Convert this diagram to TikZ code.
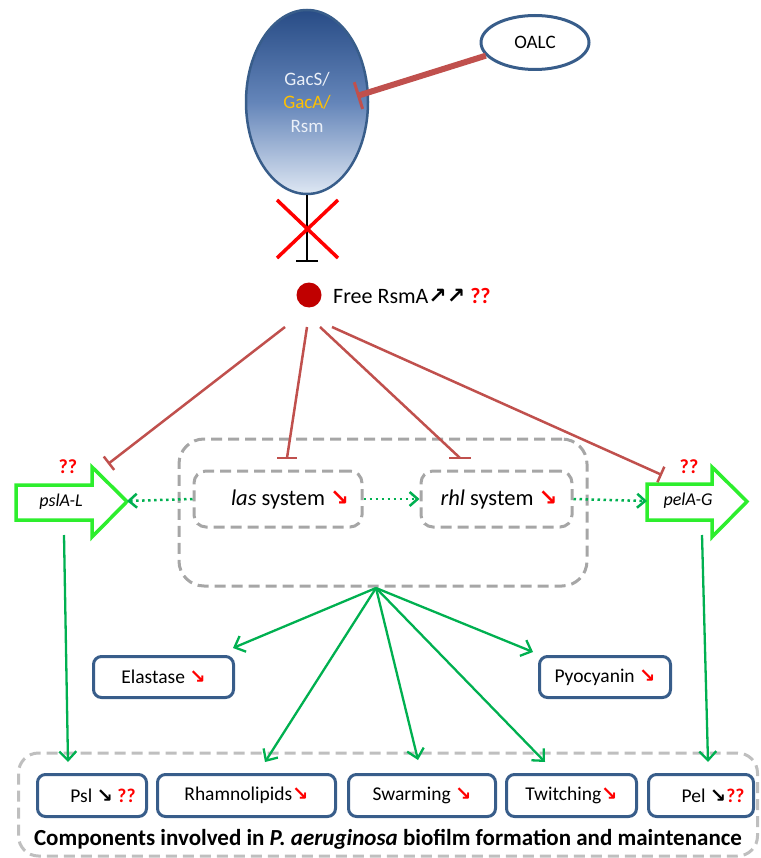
\documentclass[tikz,border=0pt]{standalone}
\usepackage{fontspec}
\setmainfont{Carlito}
\newfontfamily\arrfont{DejaVu Sans}
\usetikzlibrary{arrows.meta,shapes.geometric}
\definecolor{inhred}{RGB}{192,80,77}
\definecolor{bblue}{RGB}{56,93,138}
\definecolor{ggreen}{RGB}{0,176,80}
\definecolor{bgreen}{RGB}{45,238,45}
\definecolor{dgray}{RGB}{166,166,166}
\definecolor{lgray}{RGB}{191,191,191}
\definecolor{dotred}{RGB}{192,0,0}
\definecolor{goldc}{RGB}{255,192,0}
\definecolor{gtop}{RGB}{40,76,134}
\definecolor{gmid}{RGB}{100,133,185}
\definecolor{gbot}{RGB}{222,231,243}
\definecolor{gtext}{RGB}{235,240,248}
\newcommand\dnr{{\arrfont\bfseries\textcolor{red}{↘}}}
\newcommand\dnk{{\arrfont\bfseries ↘}}
\newcommand\upk{{\arrfont\bfseries ↗}}
\newcommand\qq{\textcolor{red}{\textbf{??}}}
\begin{document}
\begin{tikzpicture}[x=1pt,y=-1pt,
  inh/.style={draw=inhred,line width=2.5pt},
  bluebox/.style={draw=bblue,line width=3pt,rounded corners=8pt,fill=white,inner sep=0pt,font=\fontsize{19.5}{23}\selectfont},
  dashbox/.style={draw=dgray,line width=3pt,dash pattern=on 11pt off 6pt,rounded corners=#1,inner sep=0pt},
  garr/.style={draw=ggreen,line width=2.3pt,-{Straight Barb[length=9pt,width=17pt]}},
  dotarr/.style={draw=ggreen,line width=2.5pt,dash pattern=on 2.5pt off 3.5pt,-{Straight Barb[length=8pt,width=14pt]}},
  blockarr/.style={draw=bgreen,line width=3.5pt,fill=white,line join=miter},
  txt/.style={inner sep=0pt,font=\fontsize{22.5}{26}\selectfont}
]
\useasboundingbox (0,0) rectangle (760,858);

% ---- top: GacS/GacA/Rsm and OALC
\node[ellipse,minimum width=122pt,minimum height=184pt,inner sep=0pt,draw=bblue,line width=2.5pt,
      top color=gtop,bottom color=gbot,middle color=gmid,align=center,font=\fontsize{19}{23.5}\selectfont]
      (gac) at (307,102) {\textcolor{gtext}{GacS/}\\\textcolor{goldc}{GacA/}\\\textcolor{gtext}{Rsm}};
\node[ellipse,minimum width=108pt,minimum height=54pt,inner sep=0pt,draw=bblue,line width=3pt,fill=white,
      font=\fontsize{19}{23}\selectfont] (oalc) at (535,42.5) {OALC};
\coordinate (oalcbar) at (357,96);
\draw[draw=inhred,line width=6pt,-{Bar[width=28pt,line width=3pt]}] (oalc.195) -- (oalcbar);

% ---- blocked inhibition
\coordinate (gacbar) at (307,262);
\draw[black,line width=2pt,-{Bar[width=22pt,line width=2pt]}] (gac.south) -- (gacbar);
\draw[red,line width=3.5pt] (277,200) -- (338,258) (338,200) -- (277,258);

% ---- free RsmA
\node[circle,fill=dotred,minimum size=25pt,inner sep=0pt] (rsma) at (309,295) {};
\node[inner sep=0pt,anchor=west,font=\fontsize{22}{26}\selectfont] (rsmatxt) at (333,296) {Free RsmA\upk\upk\ \qq};

% ---- quorum sensing boxes
\node[dashbox=25pt,minimum width=408pt,minimum height=147pt] (qs) at (383,512.5) {};
\node[dashbox=12pt,minimum width=168pt,minimum height=56pt] (las) at (278,499) {};
\node[dashbox=12pt,minimum width=151pt,minimum height=56pt] (rhl) at (496.5,499) {};
\node[txt] (lastxt) at (290,499) {\textit{las} system\ \dnr};
\node[txt] (rhltxt) at (499,499) {\textit{rhl} system\ \dnr};

% ---- block arrows pslA-L / pelA-G
\draw[blockarr] (16,485) -- (92,485) -- (92,467) -- (127,501.5) -- (92,537) -- (92,520) -- (16,520) -- cycle;
\draw[blockarr] (647,484) -- (712,484) -- (712,467) -- (747,501.5) -- (712,537) -- (712,520) -- (647,520) -- cycle;
\coordinate (psltip) at (127,501);
\coordinate (pelbase) at (647,501);
\node[inner sep=0pt,font=\fontsize{18}{21}\selectfont\itshape] (psltxt) at (61,502) {pslA-L};
\node[inner sep=0pt,font=\fontsize{18}{21}\selectfont\itshape] (peltxt) at (688,501) {pelA-G};
\node[inner sep=0pt,font=\fontsize{20}{23}\selectfont] (pslq) at (68,467) {\qq};
\node[inner sep=0pt,font=\fontsize{20}{23}\selectfont] (pelq) at (689,467) {\qq};

% ---- dotted activations
\draw[dotarr] (las.west) -- (psltip);
\draw[dotarr] (las.east) -- (rhl.west);
\draw[dotarr] (rhl.east) -- (pelbase);

% ---- RsmA inhibitions
\coordinate (s1) at (285,327); \coordinate (e1) at (108,464);
\coordinate (s2) at (307,327); \coordinate (e2) at (287,458);
\coordinate (s3) at (320,327); \coordinate (e3) at (460,458);
\coordinate (s4) at (332,327); \coordinate (e4) at (662,475);
\draw[inh,-{Bar[width=17pt,line width=2.5pt]}] (s1) -- (e1);
\draw[inh] (s2) -- (e2);
\draw[inh] ([xshift=-10pt]e2) -- ([xshift=10pt]e2);
\draw[inh] (s3) -- (e3);
\draw[inh] ([xshift=-11pt]e3) -- ([xshift=11pt]e3);
\draw[inh,-{Bar[width=17pt,line width=2.5pt]}] (s4) -- (e4);

% ---- products
\node[bluebox,minimum width=140pt,minimum height=41pt] (elast) at (163.5,677) {Elastase\ \dnr};
\node[bluebox,minimum width=131pt,minimum height=41pt] (pyo) at (605,677) {Pyocyanin\ \dnr};

% ---- biofilm components
\node[dashbox=20pt,draw=lgray,minimum width=739pt,minimum height=103pt] (bio) at (388,804.5) {};
\node[bluebox,minimum width=109pt,minimum height=42pt] (psl) at (92,795.5) {\hspace{22pt}Psl\ \dnk\ \qq};
\node[bluebox,minimum width=178pt,minimum height=42pt] (rham) at (246.5,795.5) {Rhamnolipids\dnr};
\node[bluebox,minimum width=147pt,minimum height=42pt] (swarm) at (422,795.5) {Swarming\ \dnr};
\node[bluebox,minimum width=130pt,minimum height=42pt] (twitch) at (571.5,795.5) {Twitching\dnr};
\node[bluebox,minimum width=105pt,minimum height=42pt] (pel) at (701,795.5) {\hspace{24pt}Pel\ \dnk\qq};
\node[inner sep=0pt,font=\fontsize{23}{26}\selectfont\bfseries] (cap) at (388,839)
  {Components involved in \textit{P. aeruginosa} biofilm formation and maintenance};

% ---- green activations
\coordinate (fan) at (376,588);
\coordinate (pslbot) at (64,535);  \coordinate (psltgt) at (68,762);
\coordinate (pelbot) at (702,535); \coordinate (peltgt) at (708,762);
\coordinate (elT) at (233,648);
\coordinate (rhT) at (265,762);
\coordinate (swT) at (418,760);
\coordinate (twT) at (545,762);
\coordinate (pyT) at (533,652);
\draw[garr] (pslbot) -- (psltgt);
\draw[garr] (pelbot) -- (peltgt);
\draw[garr] (fan) -- (elT);
\draw[garr] (fan) -- (rhT);
\draw[garr] (fan) -- (swT);
\draw[garr] (fan) -- (twT);
\draw[garr] (fan) -- (pyT);
\end{tikzpicture}
\end{document}
